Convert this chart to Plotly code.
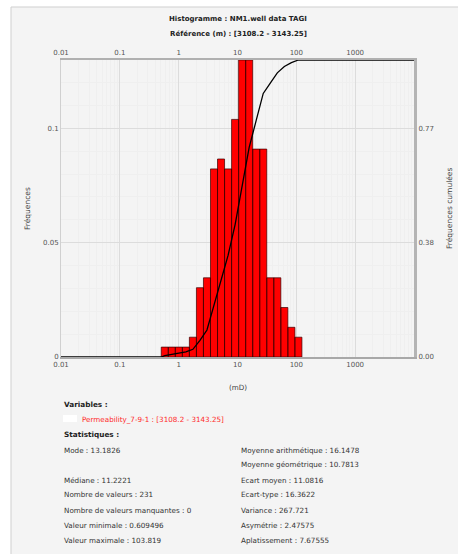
import plotly.graph_objects as go

# ---- data -------------------------------------------------------------
# log-spaced permeability class limits (mD)
bin_edges = [0.506, 0.666, 0.877, 1.155, 1.521, 2.004, 2.638, 3.474, 4.575,
             6.026, 7.935, 10.45, 13.76, 18.12, 23.86, 31.43, 41.39, 54.51,
             71.78, 94.52, 124.5]
bin_counts = [1, 1, 1, 1, 2, 7, 8, 19, 20, 19, 24, 30, 30, 21, 21, 8, 8, 5, 3, 2]
n_values = 231

x_range_log = [-2, 4]
x_tick_vals = [0.01, 0.1, 1, 10, 100, 1000]
x_tick_text = ["0.01", "0.1", "1", "10", "100", "1000"]
y_tick_vals = [0, 0.05, 0.1]
y_tick_text = ["0", "0.05", "0.1"]
y2_tick_vals = [0, 0.385, 0.77]
y2_tick_text = ["0.00", "0.38", "0.77"]

title_lines = ["Histogramme : NM1.well data TAGI",
               "Référence (m) : [3108.2 - 3143.25]"]
variable_label = "Permeability_7-9-1 : [3108.2 - 3143.25]"
stats_left = [("Mode : 13.1826", 0), ("Médiane : 11.2221", 2),
              ("Nombre de valeurs : 231", 3),
              ("Nombre de valeurs manquantes : 0", 4),
              ("Valeur minimale : 0.609496", 5),
              ("Valeur maximale : 103.819", 6)]
stats_right = [("Moyenne arithmétique : 16.1478", 0),
               ("Moyenne géométrique : 10.7813", 1),
               ("Ecart moyen : 11.0816", 2), ("Ecart-type : 16.3622", 3),
               ("Variance : 267.721", 4), ("Asymétrie : 2.47575", 5),
               ("Aplatissement : 7.67555", 6)]

# ---- derived series ---------------------------------------------------
freqs = [c / n_values for c in bin_counts]
y_max = max(freqs)
centers = [(a * b) ** 0.5 for a, b in zip(bin_edges[:-1], bin_edges[1:])]
cum = []
running = 0
for c in bin_counts:
    running += c
    cum.append(running / n_values)

# cumulative curve runs flat from the axis start and to the axis end
x_lo, x_hi = 10 ** x_range_log[0], 10 ** x_range_log[1]
cum_x = [x_lo, bin_edges[0]] + centers + [x_hi]
cum_y = [0, 0] + cum + [cum[-1]]

# ---- page geometry ----------------------------------------------------
W, H = 458, 554
L, R, T, B = 61, 44, 60, 197
PW, PH = W - L - R, H - T - B


def px(x):
    return (x - L) / PW


def py(y):
    return (H - B - y) / PH


FONT = "DejaVu Sans"
TXT = "#333333"
SIZE = 7.2

fig = go.Figure()

# histogram bars drawn as filled step polygons on the log axis
bx, by = [], []
for i, f in enumerate(freqs):
    a, b = bin_edges[i], bin_edges[i + 1]
    bx += [a, a, b, b, a, None]
    by += [0, f, f, 0, 0, None]
fig.add_trace(go.Scatter(x=bx, y=by, mode="lines", fill="toself",
                         fillcolor="#ff0000",
                         line=dict(color="#3a0000", width=0.7),
                         hoverinfo="skip", showlegend=False))

# cumulative frequency curve
fig.add_trace(go.Scatter(x=cum_x, y=cum_y, mode="lines",
                         line=dict(color="#000000", width=1.3),
                         cliponaxis=False,
                         xaxis="x2", yaxis="y2", showlegend=False))

minor_x = [m * 10 ** e for e in range(-2, 4) for m in range(2, 10)]
minor_y = [k / 100 for k in range(1, 14) if k not in (5, 10)]
tickfont = dict(family=FONT, size=7, color="#555555")

fig.update_layout(
    width=W, height=H,
    margin=dict(l=L, r=R, t=T, b=B),
    paper_bgcolor="white", plot_bgcolor="white",
    showlegend=False,
    xaxis=dict(type="log", range=x_range_log, tickvals=x_tick_vals,
               ticktext=x_tick_text, tickfont=tickfont, ticks="",
               showgrid=True, gridcolor="#dcdcdc", gridwidth=1,
               minor=dict(tickvals=minor_x, showgrid=True,
                          gridcolor="#efefef", ticks=""),
               showline=True, linecolor="#a8a8a8", linewidth=2,
               zeroline=False, fixedrange=True),
    xaxis2=dict(type="log", range=x_range_log, overlaying="x", side="top",
                anchor="y2", tickvals=x_tick_vals, ticktext=x_tick_text,
                tickfont=tickfont, ticks="", showgrid=False,
                showline=True, linecolor="#b0b0b0", linewidth=2),
    yaxis=dict(range=[0, y_max], tickvals=y_tick_vals, ticktext=y_tick_text,
               tickfont=tickfont, ticks="", showgrid=True,
               gridcolor="#dcdcdc", gridwidth=1,
               minor=dict(tickvals=minor_y, showgrid=True,
                          gridcolor="#efefef", ticks=""),
               showline=True, linecolor="#d0d0d0", linewidth=1,
               zeroline=False),
    yaxis2=dict(range=[0, 1], overlaying="y", side="right", anchor="x2",
                tickvals=y2_tick_vals, ticktext=y2_tick_text,
                tickfont=tickfont, ticks="", showgrid=False,
                zeroline=False, showline=True, linecolor="#b4b4b4",
                linewidth=3),
)

shapes = [
    # light panel behind everything
    dict(type="rect", xref="paper", yref="paper", layer="below",
         x0=px(11), x1=px(460), y0=py(7), y1=py(556),
         fillcolor="#f4f4f4", line=dict(color="#cfcfcf", width=1)),
    # white legend swatch next to the variable name
    dict(type="rect", xref="paper", yref="paper",
         x0=px(63), x1=px(77), y0=py(415), y1=py(422),
         fillcolor="white", line=dict(width=0)),
]
fig.update_layout(shapes=shapes)

ann = []


def text(x, y, s, size=SIZE, bold=False, color=TXT, anchor="left", angle=0):
    if bold:
        s = "<b>" + s + "</b>"
    ann.append(dict(x=px(x), y=py(y), xref="paper", yref="paper", text=s,
                    showarrow=False, xanchor=anchor, yanchor="middle",
                    textangle=angle,
                    font=dict(family=FONT, size=size, color=color)))


text(238, 19, title_lines[0], size=7, bold=True, color="#222222", anchor="center")
text(238, 34, title_lines[1], size=7, bold=True, color="#222222", anchor="center")
text(238, 387, "(mD)", anchor="center", color="#444444")
text(27, 209, "Fréquences", size=7.5, anchor="center", angle=-90, color="#444444")
text(449, 209, "Fréquences cumulées", size=7.5, anchor="center", angle=-90,
     color="#444444")

text(62, 404, "Variables :", size=7.3, bold=True, color="#222222")
text(80, 419, variable_label, color="#ff2a2a")
text(62, 434, "Statistiques :", size=7.3, bold=True, color="#222222")

row_y = [450, 464.5, 480, 495, 510, 525, 540]
for s, r in stats_left:
    text(62, row_y[r], s)
for s, r in stats_right:
    text(239, row_y[r], s)

fig.update_layout(annotations=ann)

fig.write_html("out.html")
